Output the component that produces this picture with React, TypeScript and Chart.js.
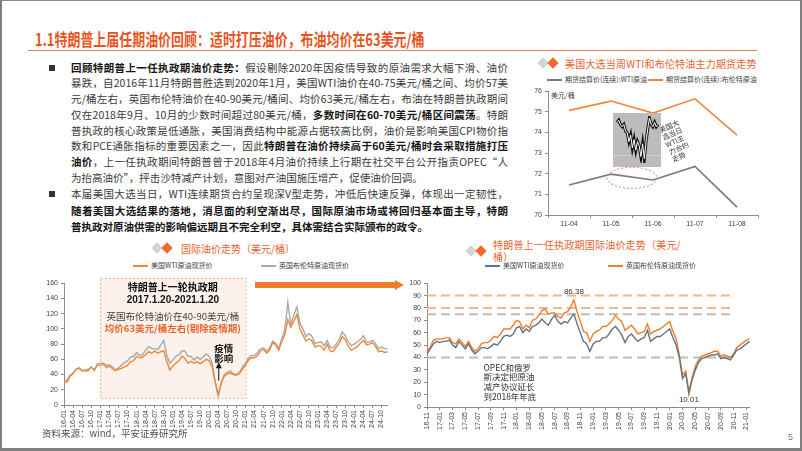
import React, { useEffect, useRef } from "react";
import { Chart, registerables } from "chart.js";
Chart.register(...registerables);

const LATIN = '"Liberation Sans", "Noto Sans CJK SC", sans-serif';
const CJK = '"Noto Sans CJK SC", "Liberation Sans", sans-serif';
const TITLE_ORANGE = "#E8541E";
const AXIS = "#8C8C8C";
const TICK_COLOR = "#404040";

// ---------- top-right: election week futures ----------
const WEEK_DAYS = ["11-04", "11-05", "11-06", "11-07", "11-08"];
const WEEK_WTI = [71.45, 71.98, 71.7, 72.35, 70.38];
const WEEK_BRENT = [75.07, 75.52, 74.94, 75.63, 73.87];
const WEEK_RANGE = [70, 76];
const INTRADAY_WTI = [72.5, 72.6, 72.4, 72.3, 72.4, 72.1, 72.0, 71.6, 71.9, 71.3, 71.7, 71.2, 71.6, 71.4, 70.9, 71.5, 70.8, 71.6, 72.2, 72.7, 72.4, 72.3, 72.5, 72.3, 72.4];

// ---------- bottom-left: 2016-2024 monthly ----------
const LONG_YEARS = [16, 17, 18, 19, 20, 21, 22, 23, 24];
const LONG_WTI = [
  31, 30, 38, 41, 47, 49, 45, 45, 45, 50, 46, 52,
  52, 54, 49, 51, 48, 45, 47, 48, 50, 52, 57, 58,
  64, 62, 63, 66, 70, 68, 71, 68, 70, 71, 57, 46,
  51, 55, 58, 64, 61, 55, 57, 55, 57, 54, 57, 60,
  58, 50, 30, 14, 29, 38, 41, 42, 40, 39, 41, 47,
  52, 59, 62, 62, 65, 71, 73, 68, 72, 82, 79, 72,
  83, 92, 112, 102, 110, 119, 100, 92, 84, 87, 84, 76,
  78, 77, 72, 80, 71, 70, 76, 81, 90, 86, 77, 72,
  74, 77, 81, 85, 79, 80, 82, 77, 70, 71, 69, 70,
];
const LONG_BRENT = [
  30, 33, 39, 42, 47, 48, 45, 46, 47, 50, 45, 54,
  55, 55, 52, 53, 50, 46, 49, 52, 56, 58, 63, 64,
  69, 65, 66, 72, 77, 74, 74, 73, 79, 85, 65, 55,
  59, 64, 66, 71, 71, 64, 64, 59, 63, 60, 63, 67,
  64, 55, 30, 11, 29, 40, 43, 45, 41, 40, 43, 50,
  55, 62, 65, 65, 69, 74, 75, 71, 75, 84, 81, 74,
  87, 98, 135, 106, 118, 129, 108, 100, 90, 94, 90, 81,
  82, 83, 78, 85, 76, 75, 80, 86, 96, 91, 83, 78,
  80, 83, 86, 91, 82, 83, 85, 81, 74, 76, 74, 74,
];

// ---------- bottom-right: 2016-11 .. 2021-01, half-monthly ----------
const TERM_START = { year: 2016, month: 11 };
const TERM_WTI = [
  43, 47, 51, 53, 52, 53, 53, 54, 50, 48,
  53, 50, 47, 51, 46, 43, 45, 48, 48, 47,
  49, 51, 50, 53, 57, 58, 57, 59, 64, 65,
  60, 63, 61, 65, 66, 68, 71, 68, 66, 71,
  74, 69, 67, 69, 68, 72, 75, 67, 60, 53,
  51, 45, 51, 53, 53, 56, 56, 59, 63, 65,
  62, 58, 52, 57, 59, 56, 53, 55, 56, 62,
  53, 55, 57, 57, 59, 61, 63, 56, 50, 40,
  23, 27, 12, 22, 30, 36, 39, 40, 41, 42,
  42, 43, 39, 40, 39, 38, 42, 46, 47, 49,
  51, 53,
];
const TERM_BRENT = [
  45, 48, 54, 55, 55, 55, 56, 56, 52, 51,
  55, 52, 49, 53, 48, 45, 47, 51, 52, 52,
  54, 57, 56, 59, 63, 63, 63, 66, 70, 69,
  63, 66, 64, 70, 71, 74, 78, 79, 75, 76,
  76, 73, 72, 76, 77, 81, 86.38, 77, 69, 61,
  60, 53, 59, 61, 62, 65, 65, 67, 70, 74,
  71, 69, 62, 64, 66, 63, 59, 60, 61, 67,
  59, 61, 62, 63, 65, 67, 69, 61, 55, 42,
  26, 29, 10.01, 24, 33, 38, 41, 42, 43, 44,
  45, 45, 41, 42, 41, 40, 43, 48, 50, 52,
  54, 55,
];
const TERM_REF_LINES = [
  { value: 90, color: "#F5B48A" },
  { value: 80, color: "#F5B48A" },
  { value: 75, color: "#BDBDBD" },
  { value: 40, color: "#BDBDBD" },
];
const OPEC_NOTE = ["OPEC和俄罗", "斯决定把原油", "减产协议延长", "到2018年年底"];

const pad2 = (n: number) => (n < 10 ? "0" + n : "" + n);
const LONG_LABELS: string[] = [];
LONG_YEARS.forEach((y) => {
  for (let m = 1; m <= 12; m++) LONG_LABELS.push(`${y}-${pad2(m)}`);
});
const TERM_LABELS: string[] = TERM_WTI.map((_, i) => {
  const total = TERM_START.year * 12 + (TERM_START.month - 1) + Math.floor(i / 2);
  const y = Math.floor(total / 12) % 100;
  const m = (total % 12) + 1;
  return `${pad2(y)}-${pad2(m)}`;
});

const tickFont = { family: LATIN, size: 7 };

function makeAxes(opts: any) {
  const xTicks: any = {
    font: tickFont,
    color: TICK_COLOR,
    padding: 2,
    autoSkip: false,
    maxRotation: opts.rot,
    minRotation: opts.rot,
  };
  if (opts.xCallback) xTicks.callback = opts.xCallback;
  return {
    x: {
      offset: opts.xOffset || false,
      grid: {
        offset: opts.xOffset || false,
        drawOnChartArea: false,
        tickLength: 3,
        color: AXIS,
        tickColor: opts.tickColor || AXIS,
      },
      border: { color: AXIS },
      ticks: xTicks,
      afterFit: (s: any) => {
        s.height = opts.xH;
      },
    },
    y: {
      min: opts.min,
      max: opts.max,
      grid: { drawOnChartArea: false, tickLength: 3, color: AXIS },
      border: { color: AXIS },
      ticks: { stepSize: opts.step, font: tickFont, color: TICK_COLOR, padding: 3 },
      afterFit: (s: any) => {
        s.width = opts.yW;
      },
    },
  };
}

function ChartCanvas({ left, top, width, height, make }: any) {
  const ref = useRef<HTMLCanvasElement>(null);
  useEffect(() => {
    const chart = new Chart(ref.current as HTMLCanvasElement, make());
    return () => chart.destroy();
  }, []);
  return (
    <canvas
      ref={ref}
      width={width}
      height={height}
      style={{ position: "absolute", left, top, width, height }}
    />
  );
}

// ---------- chart configs ----------
const weekPlugin = {
  id: "weekNotes",
  afterDatasetsDraw(chart: any) {
    const { ctx, chartArea, scales } = chart;
    const x = scales.x, y = scales.y;
    ctx.save();
    ctx.fillStyle = "#404040";
    ctx.font = `7px ${CJK}`;
    ctx.textBaseline = "middle";
    ctx.fillText("美元/桶", chartArea.left + 3, chartArea.top + 4);
    const cx = (x.getPixelForValue(1) + x.getPixelForValue(2)) / 2;
    const cy = y.getPixelForValue(71.8);
    ctx.strokeStyle = "#E57368";
    ctx.lineWidth = 1;
    ctx.setLineDash([2, 2]);
    ctx.beginPath();
    ctx.ellipse(cx, cy, 25, 10.5, 0, 0, Math.PI * 2);
    ctx.stroke();
    ctx.setLineDash([]);
    const tx = x.getPixelForValue(2) + 23;
    const ty = y.getPixelForValue(73.6);
    ctx.translate(tx, ty);
    ctx.rotate(-0.42);
    ctx.font = `7px ${CJK}`;
    ctx.fillStyle = "#333";
    const rows = ["美国大", "选当日", "WTI主", "力合约", "走势"];
    rows.forEach((r, i) => ctx.fillText(r, -11, -16 + i * 8));
    ctx.restore();
  },
};

const makeWeek = () => ({
  type: "line",
  data: {
    labels: WEEK_DAYS,
    datasets: [
      { label: "期货结算价(连续):WTI原油", data: WEEK_WTI, borderColor: "#7A7A7A", borderWidth: 1.6, pointRadius: 0 },
      { label: "期货结算价(连续):布伦特原油", data: WEEK_BRENT, borderColor: "#F0883A", borderWidth: 1.6, pointRadius: 0 },
    ],
  },
  options: {
    responsive: false,
    animation: false,
    layout: { padding: { left: 0, top: 5, right: 12, bottom: 0 } },
    plugins: { legend: { display: false }, tooltip: { enabled: false } },
    scales: makeAxes({ xOffset: true, rot: 0, xH: 19, yW: 33, min: WEEK_RANGE[0], max: WEEK_RANGE[1], step: 1 }),
  },
  plugins: [weekPlugin],
});

const insetBg = {
  id: "insetBg",
  beforeDraw(chart: any) {
    const { ctx, width, height } = chart;
    ctx.save();
    ctx.fillStyle = "#BCBCBC";
    ctx.fillRect(0, 0, width, height);
    ctx.fillStyle = "#D0D0D0";
    ctx.fillRect(0, height - 12, width, 1);
    ctx.restore();
  },
};

const makeInset = () => ({
  type: "line",
  data: {
    labels: INTRADAY_WTI.map((_, i) => i),
    datasets: [
      { data: INTRADAY_WTI, borderColor: "#FFFFFF", borderWidth: 1, pointRadius: 0 },
      { data: INTRADAY_WTI, borderColor: "#111111", borderWidth: 3, pointRadius: 0 },
    ],
  },
  options: {
    responsive: false,
    animation: false,
    layout: { padding: { left: 4, right: 3, top: 3, bottom: 4 } },
    plugins: { legend: { display: false }, tooltip: { enabled: false } },
    scales: { x: { display: false }, y: { display: false, min: 70.6, max: 72.8 } },
  },
  plugins: [insetBg],
});

const longPlugin = {
  id: "longNotes",
  beforeDatasetsDraw(chart: any) {
    const { ctx, scales } = chart;
    const x0 = scales.x.getPixelForValue(12);
    const x1 = scales.x.getPixelForValue(60);
    const y0 = scales.y.getPixelForValue(167);
    const y1 = scales.y.getPixelForValue(9);
    ctx.save();
    ctx.fillStyle = "rgba(252, 232, 218, 0.55)";
    ctx.fillRect(x0, y0, x1 - x0, y1 - y0);
    ctx.strokeStyle = "#F3A877";
    ctx.lineWidth = 1;
    ctx.setLineDash([2, 2]);
    ctx.strokeRect(x0 + 0.5, y0 + 0.5, x1 - x0, y1 - y0);
    ctx.restore();
  },
  afterDatasetsDraw(chart: any) {
    const { ctx, scales } = chart;
    const x0 = scales.x.getPixelForValue(12);
    const x1 = scales.x.getPixelForValue(60);
    const y0 = scales.y.getPixelForValue(167);
    const cx = (x0 + x1) / 2;
    ctx.save();
    ctx.textAlign = "center";
    ctx.textBaseline = "middle";
    ctx.fillStyle = "#111";
    ctx.font = `bold 10px ${CJK}`;
    ctx.fillText("特朗普上一轮执政期", cx, y0 + 9.5);
    ctx.font = `bold 10px ${LATIN}`;
    ctx.fillText("2017.1.20-2021.1.20", cx, y0 + 22);
    ctx.font = `9.5px ${CJK}`;
    ctx.fillStyle = "#404040";
    ctx.fillText("英国布伦特油价在40-90美元/桶", cx, y0 + 38.5);
    ctx.font = `bold 9.5px ${CJK}`;
    ctx.fillStyle = "#E8652A";
    ctx.fillText("均价63美元/桶左右(剔除疫情期)", cx, y0 + 51);
    const ax = scales.x.getPixelForValue(51);
    ctx.fillStyle = "#111";
    ctx.font = `bold 9.5px ${CJK}`;
    ctx.fillText("疫情", ax + 5.5, scales.y.getPixelForValue(74));
    ctx.fillText("影响", ax + 5.5, scales.y.getPixelForValue(61));
    const yTop = scales.y.getPixelForValue(56);
    const yBot = scales.y.getPixelForValue(32);
    ctx.strokeStyle = "#111";
    ctx.lineWidth = 1;
    ctx.beginPath();
    ctx.moveTo(ax + 0.5, yBot);
    ctx.lineTo(ax + 0.5, yTop + 4);
    ctx.stroke();
    ctx.beginPath();
    ctx.moveTo(ax + 0.5, yTop);
    ctx.lineTo(ax - 2.5, yTop + 6);
    ctx.lineTo(ax + 3.5, yTop + 6);
    ctx.closePath();
    ctx.fill();
    ctx.restore();
  },
};

const makeLong = () => ({
  type: "line",
  data: {
    labels: LONG_LABELS,
    datasets: [
      { label: "美国WTI原油现货价", data: LONG_WTI, borderColor: "#F0883A", borderWidth: 1.4, pointRadius: 0 },
      { label: "英国布伦特原油现货价", data: LONG_BRENT, borderColor: "#A9A9A9", borderWidth: 1.4, pointRadius: 0 },
    ],
  },
  options: {
    responsive: false,
    animation: false,
    layout: { padding: { left: 0, top: 5, right: 8, bottom: 0 } },
    plugins: { legend: { display: false }, tooltip: { enabled: false } },
    scales: makeAxes({
      rot: 90,
      xH: 31,
      yW: 44,
      min: 0,
      max: 160,
      step: 20,
      xCallback: (_v: any, i: number) => (i % 3 === 0 ? LONG_LABELS[i] : ""),
      tickColor: (c: any) => (c.index % 3 === 0 ? AXIS : "rgba(0,0,0,0)"),
    }),
  },
  plugins: [longPlugin],
});

const termPlugin = {
  id: "termNotes",
  beforeDatasetsDraw(chart: any) {
    const { ctx, chartArea, scales } = chart;
    const xEnd = scales.x.getPixelForValue(95);
    ctx.save();
    ctx.lineWidth = 2;
    ctx.setLineDash([9, 5]);
    TERM_REF_LINES.forEach((r) => {
      const y = scales.y.getPixelForValue(r.value);
      ctx.strokeStyle = r.color;
      ctx.beginPath();
      ctx.moveTo(chartArea.left, y);
      ctx.lineTo(xEnd, y);
      ctx.stroke();
    });
    ctx.restore();
  },
  afterDatasetsDraw(chart: any) {
    const { ctx, scales } = chart;
    const hi = TERM_BRENT.indexOf(Math.max(...TERM_BRENT));
    const lo = TERM_BRENT.indexOf(Math.min(...TERM_BRENT));
    ctx.save();
    ctx.fillStyle = "#333";
    ctx.font = `8px ${LATIN}`;
    ctx.textAlign = "center";
    ctx.textBaseline = "middle";
    ctx.fillText(String(TERM_BRENT[hi]), scales.x.getPixelForValue(hi), scales.y.getPixelForValue(TERM_BRENT[hi]) - 8);
    ctx.fillText(TERM_BRENT[lo].toFixed(2), scales.x.getPixelForValue(lo), scales.y.getPixelForValue(TERM_BRENT[lo]) + 5);
    ctx.textAlign = "left";
    ctx.font = `8.5px ${CJK}`;
    const nx = scales.x.getPixelForValue(18) - 1;
    const ny = scales.y.getPixelForValue(32);
    OPEC_NOTE.forEach((t, i) => ctx.fillText(t, nx, ny + i * 9.8));
    ctx.restore();
  },
};

const makeTerm = () => ({
  type: "line",
  data: {
    labels: TERM_LABELS,
    datasets: [
      { label: "美国WTI原油现货价", data: TERM_WTI, borderColor: "#637384", borderWidth: 1.4, pointRadius: 0 },
      { label: "英国布伦特原油现货价", data: TERM_BRENT, borderColor: "#F07D2A", borderWidth: 1.4, pointRadius: 0 },
    ],
  },
  options: {
    responsive: false,
    animation: false,
    layout: { padding: { left: 0, top: 5, right: 10, bottom: 0 } },
    plugins: { legend: { display: false }, tooltip: { enabled: false } },
    scales: makeAxes({
      rot: 90,
      xH: 29,
      yW: 32,
      min: 0,
      max: 100,
      step: 10,
      xCallback: (_v: any, i: number) => (i % 4 === 0 ? TERM_LABELS[i] : ""),
      tickColor: (c: any) => (c.index % 4 === 0 ? AXIS : "rgba(0,0,0,0)"),
    }),
  },
  plugins: [termPlugin],
});

// ---------- html helpers ----------
function T({ x, y, size, color = "#333", weight = 400, family = CJK, children, style }: any) {
  return (
    <div
      style={{
        position: "absolute",
        left: x,
        top: y - size * 0.65,
        fontSize: size,
        lineHeight: `${size * 1.3}px`,
        color,
        fontWeight: weight,
        fontFamily: family,
        whiteSpace: "nowrap",
        ...style,
      }}
    >
      {children}
    </div>
  );
}

function Diamonds({ x, y }: any) {
  const d = (cx: number, color: string) => (
    <div
      style={{
        position: "absolute",
        left: cx - 4,
        top: y - 4,
        width: 8,
        height: 8,
        background: color,
        transform: "rotate(45deg)",
      }}
    />
  );
  return (
    <>
      {d(x, "#D4D4D4")}
      {d(x + 10, "#F06A2A")}
    </>
  );
}

function LegendItem({ x, y, color, label }: any) {
  return (
    <>
      <div style={{ position: "absolute", left: x, top: y - 1, width: 15, height: 2, background: color }} />
      <T x={x + 18} y={y} size={7} color="#404040">
        {label}
      </T>
    </>
  );
}

type Seg = [string, boolean?];
const PARA1: Seg[][] = [
  [["回顾特朗普上一任执政期油价走势：", true], ["假设剔除2020年因疫情导致的原油需求大幅下滑、油价"]],
  [["暴跌，自2016年11月特朗普胜选到2020年1月，美国WTI油价在40-75美元/桶之间、均价57美"]],
  [["元/桶左右，英国布伦特油价在40-90美元/桶间、均价63美元/桶左右，布油在特朗普执政期间"]],
  [["仅在2018年9月、10月的少数时间超过80美元/桶，"], ["多数时间在60-70美元/桶区间震荡", true], ["。特朗"]],
  [["普执政的核心政策是低通胀，美国消费结构中能源占据较高比例，油价是影响美国CPI物价指"]],
  [["数和PCE通胀指标的重要因素之一，因此"], ["特朗普在油价持续高于60美元/桶时会采取措施打压", true]],
  [["油价", true], ["，上一任执政期间特朗普曾于2018年4月油价持续上行期在社交平台公开指责OPEC“人"]],
  [["为抬高油价”，抨击沙特减产计划，意图对产油国施压增产，促使油价回调。"]],
];
const PARA2: Seg[][] = [
  [["本届美国大选当日，WTI连续期货合约呈现深V型走势，冲低后快速反弹，体现出一定韧性，"]],
  [["随着美国大选结果的落地，消息面的利空渐出尽，国际原油市场或将回归基本面主导，特朗", true]],
  [["普执政对原油供需的影响偏远期且不完全利空，具体需结合实际颁布的政令。", true]],
];

function Para({ lines, top, lh }: { lines: Seg[][]; top: number; lh: number }) {
  return (
    <>
      {lines.map((segs, i) => {
        const last = i === lines.length - 1;
        return (
          <div
            key={i}
            style={{
              position: "absolute",
              left: 71,
              top: top + i * lh,
              width: 437,
              height: lh,
              lineHeight: `${lh}px`,
              fontSize: 10.5,
              fontFamily: CJK,
              color: "#3A3A3A",
              textAlign: "justify",
              textAlignLast: last ? "left" : "justify",
              whiteSpace: "nowrap",
              overflow: "visible",
            }}
          >
            {segs.map(([t, b], j) => (
              <span key={j} style={b ? { fontWeight: 700, color: "#151515" } : undefined}>
                {t}
              </span>
            ))}
          </div>
        );
      })}
    </>
  );
}

export default function App() {
  return (
    <div
      style={{
        position: "fixed",
        left: 0,
        top: 0,
        width: 802,
        height: 451,
        background: "#fff",
        overflow: "hidden",
        fontFamily: CJK,
      }}
    >
      {/* title */}
      <T
        x={35}
        y={39.5}
        size={16.5}
        color={TITLE_ORANGE}
        weight={700}
        style={{ transform: "scaleX(0.785)", transformOrigin: "left center" }}
      >
        1.1特朗普上届任期油价回顾：适时打压油价，布油均价在63美元/桶
      </T>
      <div style={{ position: "absolute", left: 28, top: 49.5, width: 729, height: 1.5, background: "#EE7B4A" }} />

      {/* text block */}
      <div style={{ position: "absolute", left: 49, top: 64.5, width: 6, height: 6, background: "#333" }} />
      <div style={{ position: "absolute", left: 49, top: 191, width: 6, height: 6, background: "#333" }} />
      <Para lines={PARA1} top={59.7} lh={15.7} />
      <Para lines={PARA2} top={186} lh={16.5} />

      {/* top-right chart */}
      <Diamonds x={543} y={63} />
      <T x={565} y={63} size={10} color="#E9632B" style={{ letterSpacing: 0.2 }}>
        美国大选当周WTI和布伦特油主力期货走势
      </T>
      <LegendItem x={547} y={80} color="#7A7A7A" label="期货结算价(连续):WTI原油" />
      <LegendItem x={648} y={80} color="#F0883A" label="期货结算价(连续):布伦特原油" />
      <ChartCanvas left={515} top={84} width={255} height={150} make={makeWeek} />
      <ChartCanvas left={613} top={113} width={48} height={54} make={makeInset} />

      {/* bottom-left chart */}
      <Diamonds x={157} y={248} />
      <T x={181} y={248} size={10} color="#E9632B">
        国际油价走势（美元/桶）
      </T>
      <LegendItem x={133} y={265.5} color="#F0883A" label="美国WTI原油现货价" />
      <LegendItem x={261} y={265.5} color="#A9A9A9" label="英国布伦特原油现货价" />
      <ChartCanvas left={20} top={276} width={378} height={160} make={makeLong} />

      {/* bottom-right chart */}
      <Diamonds x={471} y={251} />
      <T x={493} y={244} size={10} color="#E9632B" style={{ letterSpacing: 0.2 }}>
        特朗普上一任执政期国际油价走势（美元/
      </T>
      <T x={493} y={256} size={10} color="#E9632B">
        桶）
      </T>
      <LegendItem x={485} y={265.5} color="#637384" label="美国WTI原油现货价" />
      <LegendItem x={608} y={265.5} color="#F07D2A" label="英国布伦特原油现货价" />
      <ChartCanvas left={395} top={276} width={365} height={160} make={makeTerm} />

      {/* linking arrow */}
      <div style={{ position: "absolute", left: 255, top: 282, width: 141, height: 6, background: "#F07C2E" }} />
      <div
        style={{
          position: "absolute",
          left: 395,
          top: 280,
          width: 0,
          height: 0,
          borderLeft: "9px solid #F07C2E",
          borderTop: "5px solid transparent",
          borderBottom: "5px solid transparent",
        }}
      />

      {/* footer */}
      <T x={42} y={433} size={9.5} color="#505050">
        资料来源：wind，平安证券研究所
      </T>
      <T x={788} y={438} size={9} color="#777" family={LATIN}>
        5
      </T>

      {/* slide frame */}
      <div
        style={{
          position: "absolute",
          left: 0,
          top: 0,
          width: 802,
          height: 451,
          boxSizing: "border-box",
          borderTop: "1px solid #8A8A8A",
          borderLeft: "2px solid #7F7F7F",
          borderRight: "2px solid #7F7F7F",
          borderBottom: "3px solid #7F7F7F",
          pointerEvents: "none",
        }}
      />
    </div>
  );
}
